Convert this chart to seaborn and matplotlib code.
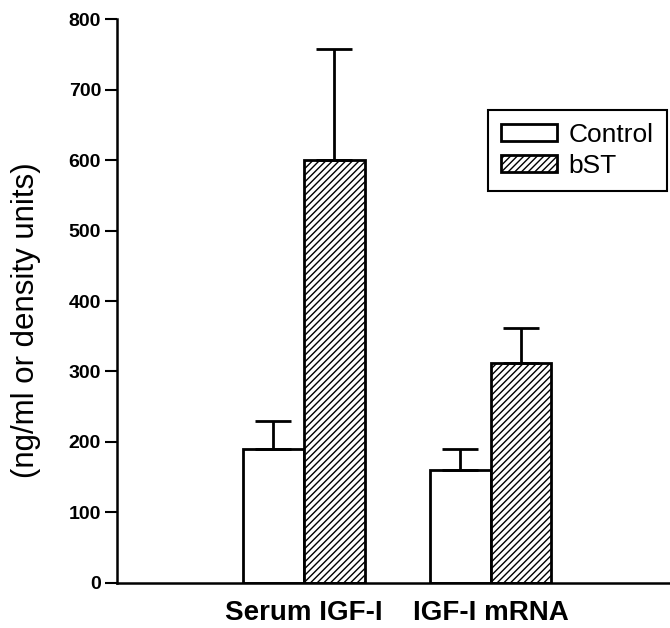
import pandas as pd
import matplotlib
matplotlib.use("Agg")
from matplotlib import pyplot as plt
import seaborn as sns

categories = ["Serum IGF-I", "IGF-I mRNA"]
groups = ["Control", "bST"]
control_means = [190, 160]
bst_means = [600, 312]
control_err = [40, 30]
bst_err = [158, 50]

df = pd.DataFrame({
    "category": categories * 2,
    "group": [groups[0]] * 2 + [groups[1]] * 2,
    "value": control_means + bst_means,
    "err": control_err + bst_err,
})

sns.set_style("ticks")
plt.rcParams["font.family"] = ["Liberation Sans", "DejaVu Sans"]
plt.rcParams["hatch.linewidth"] = 1.0
for k in ["text.color", "axes.labelcolor", "xtick.color", "ytick.color", "axes.edgecolor"]:
    plt.rcParams[k] = "black"

fig = plt.figure(figsize=(6.7, 6.28), dpi=100)
ax = fig.add_axes([0.1746, 0.0717, 0.8254, 0.898])

sns.barplot(data=df, x="category", y="value", hue="group", order=categories,
            hue_order=groups, palette=["white", "white"], edgecolor="black",
            linewidth=2, width=0.65, errorbar=None, ax=ax)

# hatch the bST bars and add upward error bars
for container, g in zip(ax.containers, groups):
    sub = df[df["group"] == g].set_index("category").loc[categories]
    for bar, (_, row) in zip(container, sub.iterrows()):
        if g == "bST":
            bar.set_hatch("/////")
        cx = bar.get_x() + bar.get_width() / 2
        ax.errorbar(cx, row["value"], yerr=[[0], [row["err"]]], fmt="none",
                    ecolor="black", elinewidth=2, capsize=13, capthick=2,
                    zorder=1)

ax.set_ylim(0, 800)
ax.set_xlim(-1.0, 1.96)
ax.set_yticks(range(0, 801, 100))
ax.set_xlabel("")
ax.set_ylabel("(ng/ml or density units)", fontsize=22.5)
ax.yaxis.set_label_coords(-0.138, 0.466)
ax.tick_params(axis="y", length=8.5, width=1.5, labelsize=14, pad=3)
ax.tick_params(axis="x", length=0, labelsize=20, pad=12)
for lab in ax.get_yticklabels():
    lab.set_fontweight("bold")
for lab in ax.get_xticklabels():
    lab.set_fontweight("bold")
for s in ["left", "bottom"]:
    ax.spines[s].set_linewidth(1.8)
sns.despine(ax=ax)

leg = ax.legend(loc="upper left", bbox_to_anchor=(0.671, 0.839), fontsize=19,
                fancybox=False, edgecolor="black", framealpha=1,
                handlelength=2.1, handleheight=0.6, borderpad=0.5,
                labelspacing=0.25, handletextpad=0.45, borderaxespad=0)
leg.get_frame().set_linewidth(1.5)
for h in leg.legend_handles:
    h.set_linewidth(2)
leg.legend_handles[1].set_hatch("/////")

fig.savefig("out.png", dpi=100)
